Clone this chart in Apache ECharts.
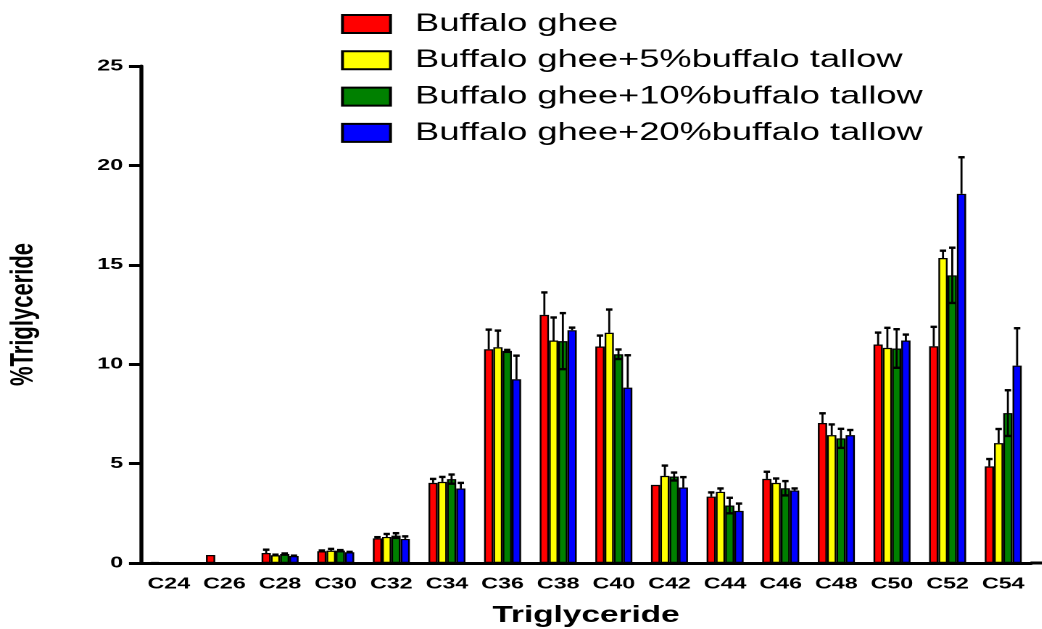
<!DOCTYPE html>
<html>
<head>
<meta charset="utf-8">
<script src="https://cdn.jsdelivr.net/npm/echarts@6/dist/echarts.min.js"></script>
<style>
  html, body { margin: 0; padding: 0; background: #fff; overflow: hidden; }
  #chart { position: absolute; left: 0; top: 0; height: 629px; transform-origin: 0 0; }
</style>
</head>
<body>
<div id="chart"></div>
<script>
// Triglyceride composition (% of total) of buffalo ghee and its blends with buffalo tallow
const categories = ['C24','C26','C28','C30','C32','C34','C36','C38','C40','C42','C44','C46','C48','C50','C52','C54'];

const seriesNames = [
  'Buffalo ghee',
  'Buffalo ghee+5%buffalo tallow',
  'Buffalo ghee+10%buffalo tallow',
  'Buffalo ghee+20%buffalo tallow'
];

const ghee      = [0.05, 0.40, 0.50, 0.59, 1.24, 4.03, 10.75, 12.48, 10.89, 3.93, 3.34, 4.23, 7.04, 10.99, 10.90, 4.86];
const tallow5   = [null, null, 0.39, 0.62, 1.31, 4.08, 10.85, 11.19, 11.58, 4.38, 3.58, 4.03, 6.43, 10.82, 15.34, 6.03];
const tallow10  = [null, null, 0.45, 0.62, 1.38, 4.22, 10.67, 11.16, 10.50, 4.35, 2.89, 3.76, 6.27, 10.79, 14.47, 7.54];
const tallow20  = [null, null, 0.35, 0.54, 1.21, 3.75,  9.24, 11.71,  8.82, 3.80, 2.62, 3.65, 6.43, 11.19, 18.57, 9.93];

// standard deviations
const gheeSD     = [0, 0, 0.17, 0.04, 0.06, 0.20, 0.99, 1.13, 0.55, 0, 0.21, 0.36, 0.49, 0.60, 0.98, 0.37];
const tallow5SD  = [0, 0, 0.03, 0.09, 0.15, 0.25, 0.84, 1.16, 1.17, 0.52, 0.17, 0.22, 0.54, 1.01, 0.37, 0.71];
const tallow10SD = [0, 0, 0.03, 0.03, 0.12, 0.23, 0.05, 1.41, 0.24, 0.20, 0.39, 0.36, 0.48, 0.97, 1.39, 1.15];
const tallow20SD = [0, 0, 0.02, 0.02, 0.13, 0.28, 1.19, 0.13, 1.63, 0.52, 0.37, 0.10, 0.26, 0.30, 1.84, 1.88];

const yTicks = [0, 5, 10, 15, 20, 25];

const values = [ghee, tallow5, tallow10, tallow20];
const sds = [gheeSD, tallow5SD, tallow10SD, tallow20SD];
const colors = ['#ff0000', '#ffff00', '#008000', '#0000ff'];
const bothWays = [false, false, true, false];

// the plot is drawn horizontally widened
const SX = 1.45;
const W = 1042 / SX;
const el = document.getElementById('chart');
el.style.width = W + 'px';
el.style.transform = 'scaleX(' + SX + ')';

const FONT = '"Liberation Sans", Arial, sans-serif';
const BAR_W = 9.25 / SX;
const axisLeft = 141 / SX;
const axisRight = 1030.5 / SX;

const chart = echarts.init(el, null, { renderer: 'canvas', devicePixelRatio: 2 });

const barSeries = values.map((arr, k) => ({
  name: seriesNames[k],
  type: 'bar',
  data: arr,
  barWidth: BAR_W,
  barGap: '0%',
  itemStyle: { color: colors[k], borderColor: '#000', borderWidth: 1.2 },
  emphasis: { disabled: true },
  z: 2
}));

const errSeries = values.map((arr, k) => ({
  name: 'sd' + k,
  type: 'custom',
  z: 3,
  silent: true,
  data: arr.map((v, i) => [i, v, sds[k][i]]),
  encode: { x: 0, y: 1 },
  renderItem(params, api) {
    const ci = api.value(0), v = api.value(1), e = api.value(2);
    if (v == null || isNaN(v) || !e) return null;
    const base = api.coord([ci, v]);
    const top = api.coord([ci, v + e]);
    const bot = bothWays[k] ? api.coord([ci, v - e]) : base;
    const x = base[0] + (k - 1.5) * BAR_W;
    const cap = 2.2;
    const st = { stroke: '#000', lineWidth: 1.4 };
    const children = [
      { type: 'line', shape: { x1: x, y1: bot[1], x2: x, y2: top[1] }, style: st },
      { type: 'line', shape: { x1: x - cap, y1: top[1], x2: x + cap, y2: top[1] }, style: { stroke: '#000', lineWidth: 2.4 } }
    ];
    if (bothWays[k]) {
      children.push({ type: 'line', shape: { x1: x - cap, y1: bot[1], x2: x + cap, y2: bot[1] }, style: { stroke: '#000', lineWidth: 2.4 } });
    }
    return { type: 'group', children };
  }
}));

chart.setOption({
  animation: false,
  backgroundColor: '#fff',
  textStyle: { fontFamily: FONT },
  legend: {
    data: seriesNames,
    orient: 'vertical',
    left: 341 / SX,
    top: 11.5,
    padding: 0,
    icon: 'rect',
    itemWidth: 48 / SX,
    itemHeight: 18,
    itemGap: 11.3,
    selectedMode: false,
    textStyle: { fontFamily: FONT, fontSize: 25, color: '#000', padding: [0, 0, 0, 12] }
  },
  grid: { left: axisLeft, right: W - axisRight, top: 66, bottom: 66, containLabel: false, outerBoundsMode: 'none' },
  xAxis: {
    type: 'category',
    data: categories,
    name: 'Triglyceride',
    nameLocation: 'middle',
    nameGap: 41,
    nameTextStyle: { fontFamily: FONT, fontSize: 23, fontWeight: 'bold', color: '#000' },
    axisLine: { lineStyle: { color: '#000', width: 3 } },
    axisTick: { alignWithLabel: true, length: 9, lineStyle: { color: '#000', width: 2 } },
    axisLabel: { fontFamily: FONT, fontSize: 16, fontWeight: 'bold', color: '#000', margin: 13, interval: 0 }
  },
  yAxis: {
    type: 'value',
    min: yTicks[0],
    max: yTicks[yTicks.length - 1],
    interval: 5,
    name: '%Triglyceride',
    nameLocation: 'middle',
    nameGap: 70,
    nameRotate: 90,
    nameTextStyle: { fontFamily: FONT, fontSize: 22, fontWeight: 'bold', color: '#000' },
    axisLine: { show: true, lineStyle: { color: '#000', width: 2.7 } },
    axisTick: { show: true, length: 8.3, lineStyle: { color: '#000', width: 3 } },
    axisLabel: { fontFamily: FONT, fontSize: 16, fontWeight: 'bold', color: '#000', margin: 12.4 },
    splitLine: { show: false }
  },
  series: barSeries.concat(errSeries)
});

// the baseline runs on to the right edge of the figure
const y0 = chart.convertToPixel({ yAxisIndex: 0 }, 0);
chart.setOption({
  graphic: [{
    type: 'line',
    silent: true,
    shape: { x1: axisRight, y1: y0, x2: W, y2: y0 },
    style: { stroke: '#000', lineWidth: 3 }
  }]
});
</script>
</body>
</html>
